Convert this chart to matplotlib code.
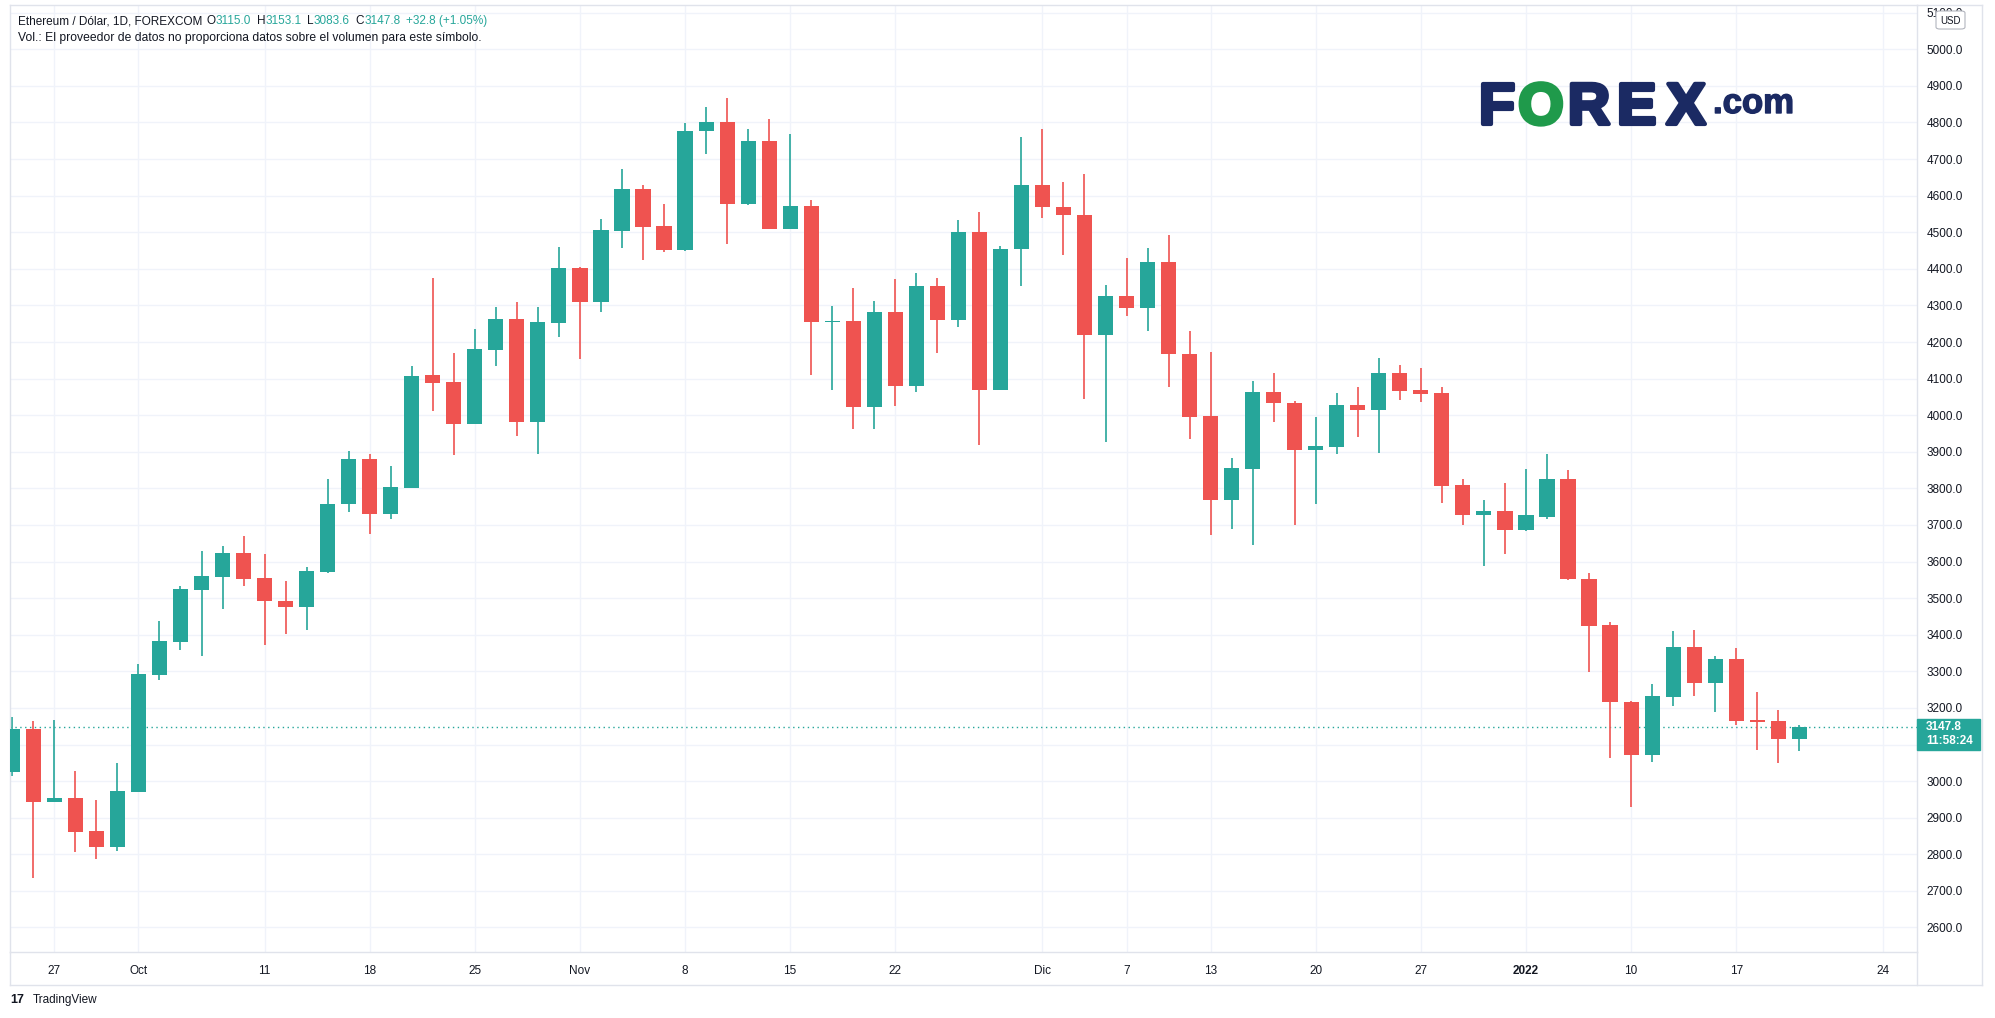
import numpy as np
import pandas as pd
import matplotlib
matplotlib.use('Agg')
import matplotlib.pyplot as plt
import matplotlib.patheffects as pe
from matplotlib.lines import Line2D
from matplotlib.patches import Rectangle, FancyBboxPatch

# daily candles, FOREXCOM ETH/USD (weekdays only)
first_day = '2021-09-23'
last_day = '2022-01-20'
opens = [3026, 3143, 2944, 2954, 2864, 2821, 2971, 3291, 3381, 3523,
         3559, 3624, 3555, 3492, 3477, 3572, 3756, 3880, 3731, 3802,
         4110, 4091, 3976, 4179, 4263, 3982, 4253, 4403, 4310, 4504,
         4619, 4517, 4452, 4776, 4800, 4576, 4748, 4510, 4572, 4255,
         4258, 4023, 4282, 4081, 4354, 4259, 4501, 4070, 4453, 4630,
         4570, 4548, 4218, 4326, 4292, 4419, 4168, 3998, 3769, 3854,
         4064, 4033, 3905, 3913, 4027, 4014, 4114, 4068, 4060, 3808,
         3726, 3737, 3685, 3723, 3827, 3552, 3427, 3216, 3072, 3230,
         3367, 3268, 3334, 3167, 3164, 3115.0]
highs = [3175, 3164, 3167, 3028, 2949, 3050, 3320, 3438, 3533, 3629,
         3643, 3671, 3621, 3547, 3585, 3826, 3902, 3894, 3861, 4134,
         4376, 4170, 4236, 4296, 4310, 4296, 4461, 4405, 4535, 4672,
         4628, 4576, 4798, 4843, 4868, 4783, 4810, 4769, 4589, 4299,
         4348, 4313, 4373, 4389, 4375, 4534, 4556, 4463, 4759, 4783,
         4638, 4660, 4356, 4430, 4458, 4493, 4230, 4173, 3883, 4094,
         4116, 4039, 3994, 4062, 4076, 4156, 4136, 4128, 4076, 3827,
         3769, 3816, 3852, 3893, 3849, 3569, 3435, 3218, 3266, 3410,
         3413, 3343, 3364, 3244, 3195, 3153.1]
lows = [3015, 2736, 2942, 2805, 2786, 2808, 2969, 3275, 3357, 3343,
        3471, 3534, 3373, 3403, 3414, 3570, 3736, 3676, 3715, 3800,
        4012, 3891, 3975, 4135, 3943, 3893, 4215, 4154, 4282, 4458,
        4425, 4447, 4450, 4715, 4469, 4575, 4508, 4508, 4111, 4070,
        3963, 3963, 4026, 4064, 4171, 4240, 3919, 4068, 4352, 4538,
        4439, 4045, 3928, 4270, 4231, 4078, 3936, 3673, 3690, 3646,
        3982, 3701, 3757, 3894, 3940, 3896, 4041, 4035, 3761, 3699,
        3587, 3622, 3683, 3715, 3549, 3298, 3064, 2930, 3053, 3205,
        3233, 3189, 3154, 3085, 3050, 3083.6]
closes = [3143, 2944, 2954, 2862, 2821, 2973, 3293, 3383, 3525, 3561,
          3624, 3553, 3491, 3477, 3574, 3757, 3880, 3731, 3804, 4108,
          4089, 3976, 4181, 4263, 3982, 4255, 4403, 4310, 4506, 4619,
          4515, 4452, 4776, 4800, 4576, 4748, 4510, 4572, 4256, 4258,
          4023, 4282, 4081, 4354, 4259, 4501, 4070, 4455, 4630, 4568,
          4546, 4218, 4326, 4292, 4419, 4166, 3996, 3769, 3856, 4064,
          4032, 3906, 3915, 4027, 4014, 4114, 4065, 4058, 3806, 3726,
          3737, 3685, 3726, 3827, 3551, 3424, 3215, 3072, 3233, 3367,
          3268, 3334, 3164, 3162, 3115, 3147.8]

tick_days = ['2021-09-27', '2021-10-01', '2021-10-11', '2021-10-18', '2021-10-25',
             '2021-11-01', '2021-11-08', '2021-11-15', '2021-11-22', '2021-12-01',
             '2021-12-07', '2021-12-13', '2021-12-20', '2021-12-27', '2022-01-03',
             '2022-01-10', '2022-01-17', '2022-01-24']
tick_labels = ['27', 'Oct', '11', '18', '25', 'Nov', '8', '15', '22', 'Dic',
               '7', '13', '20', '27', '2022', '10', '17', '24']
price_ticks = list(range(2600, 5200, 100))

last_price = 3147.8
countdown = '11:58:24'
title = 'Ethereum / Dólar, 1D, FOREXCOM'
ohlc_head = [('O', '3115.0'), ('H', '3153.1'), ('L', '3083.6'), ('C', '3147.8')]
change = '+32.8 (+1.05%)'
vol_note = 'Vol.: El proveedor de datos no proporciona datos sobre el volumen para este símbolo.'

GREEN = '#26a69a'
RED = '#ef5350'
GRID = '#f0f3fa'
BORDER = '#e0e3eb'
TEXT = '#131722'

plt.rcParams['font.family'] = ['Liberation Sans', 'DejaVu Sans']

W, H = 1995, 1018
fig = plt.figure(figsize=(W / 100, H / 100), dpi=100)
fig.patch.set_facecolor('white')


def fx(x):
    return x / W


def fy(y):
    return 1 - y / H


# plot area in pixels
L, R, T, B = 10, 1917, 5, 952
YMIN, YMAX = 2533, 5121
ax = fig.add_axes([fx(L), fy(B), fx(R) - fx(L), fy(T) - fy(B)])

days = pd.bdate_range(first_day, last_day)
x = np.arange(len(days))
o = np.array(opens, float)
h = np.array(highs, float)
l = np.array(lows, float)
c = np.array(closes, float)


def day_pos(d):
    d = pd.Timestamp(d)
    if d <= days[-1]:
        return days.get_loc(d)
    # future area is spaced by calendar days
    return x[-1] + (d - days[-1]).days


cols = np.where(c >= o, GREEN, RED)
ax.vlines(x, l, h, colors=cols, lw=1.2, zorder=2)
ax.bar(x, np.maximum(np.abs(c - o), 3), bottom=np.minimum(o, c), width=0.72,
       color=cols, linewidth=0, zorder=3)

ax.axhline(last_price, color=GREEN, lw=1, ls=(0, (1, 2.5)), zorder=1)

ax.set_xlim(-0.11, 90.6)
ax.set_ylim(YMIN, YMAX)

tick_pos = [day_pos(d) for d in tick_days]
ax.set_xticks(tick_pos)
ax.set_xticklabels(tick_labels)
for t in ax.get_xticklabels():
    if t.get_text() == '2022':
        t.set_fontweight('bold')


def price_y(p):
    return T + (YMAX - p) / (YMAX - YMIN) * (B - T)


py = price_y(last_price)
# labels hidden behind the last-price badge are left blank
ylabs = []
for p in price_ticks:
    yy = price_y(p)
    ylabs.append('' if py - 14 < yy < py + 29 else f'{p:.1f}')
ax.set_yticks(price_ticks)
ax.set_yticklabels(ylabs)
ax.yaxis.tick_right()
ax.tick_params(axis='y', length=0, pad=7, labelsize=8.5, labelcolor=TEXT)
ax.tick_params(axis='x', length=0, pad=9, labelsize=8.5, labelcolor=TEXT)
ax.grid(True, color=GRID, lw=1, zorder=0)
ax.set_axisbelow(True)
for s in ax.spines.values():
    s.set_color(BORDER)
    s.set_linewidth(1)

# outer frame of price / time scales
for xs, ys in [([R, 1982], [T, T]), ([1982, 1982], [T, 985]), ([L, 1982], [985, 985]),
               ([L, L], [B, 985]), ([R, R], [B, 985])]:
    fig.add_artist(Line2D([fx(v) for v in xs], [fy(v) for v in ys], color=BORDER, lw=1))

# last price badge
fig.add_artist(Rectangle((fx(R), fy(py + 23)), fx(1980) - fx(R), fy(py - 8) - fy(py + 23),
                         transform=fig.transFigure, color=GREEN, zorder=5))
fig.text(fx(1926), fy(py), f'{last_price:.1f}', color='white', fontsize=8.5,
         fontweight='bold', va='center', zorder=6)
fig.text(fx(1926), fy(py + 14), countdown, color='white', fontsize=8.5,
         fontweight='bold', va='center', zorder=6)

# USD badge
fig.add_artist(FancyBboxPatch((fx(1938), fy(28)), fx(25), 16 / H,
                              boxstyle='round,pad=0.001,rounding_size=0.002',
                              transform=fig.transFigure, fc='white', ec='#b2b5be',
                              lw=0.8, zorder=5))
fig.text(fx(1950.5), fy(20.5), 'USD', color=TEXT, fontsize=7, ha='center',
         va='center', zorder=6)

# header
renderer = fig.canvas.get_renderer()


def put(xp, yp, s, col, size=8.5):
    t = fig.text(fx(xp), fy(yp), s, color=col, fontsize=size, va='center')
    return xp + t.get_window_extent(renderer).width


xp = put(18, 21, title, TEXT) + 4
for k, v in ohlc_head:
    xp = put(xp, 21, k, TEXT)
    xp = put(xp, 21, v, GREEN) + 6
put(xp, 21, change, GREEN)
put(18, 38, vol_note, TEXT, size=8.7)

# FOREX.com logo
NAVY = '#1b2a63'
for ch, cx, col in [('F', 1497, NAVY), ('O', 1541, '#1f9a4b'), ('R', 1589, NAVY),
                    ('E', 1637, NAVY), ('X', 1686, NAVY)]:
    fig.text(fx(cx), fy(124), ch, color=col, fontsize=42, fontweight='bold',
             ha='center', va='baseline',
             path_effects=[pe.withStroke(linewidth=3, foreground=col)])
fig.text(fx(1713), fy(113), '.com', color=NAVY, fontsize=25, fontweight='bold',
         ha='left', va='baseline',
         path_effects=[pe.withStroke(linewidth=1, foreground=NAVY)])

# TradingView credit
fig.text(fx(10), fy(1000), '17', color=TEXT, fontsize=9, fontweight='bold', va='center')
fig.text(fx(33), fy(1000), 'TradingView', color=TEXT, fontsize=8.5, va='center')

fig.savefig('out.png', dpi=100, facecolor='white')
